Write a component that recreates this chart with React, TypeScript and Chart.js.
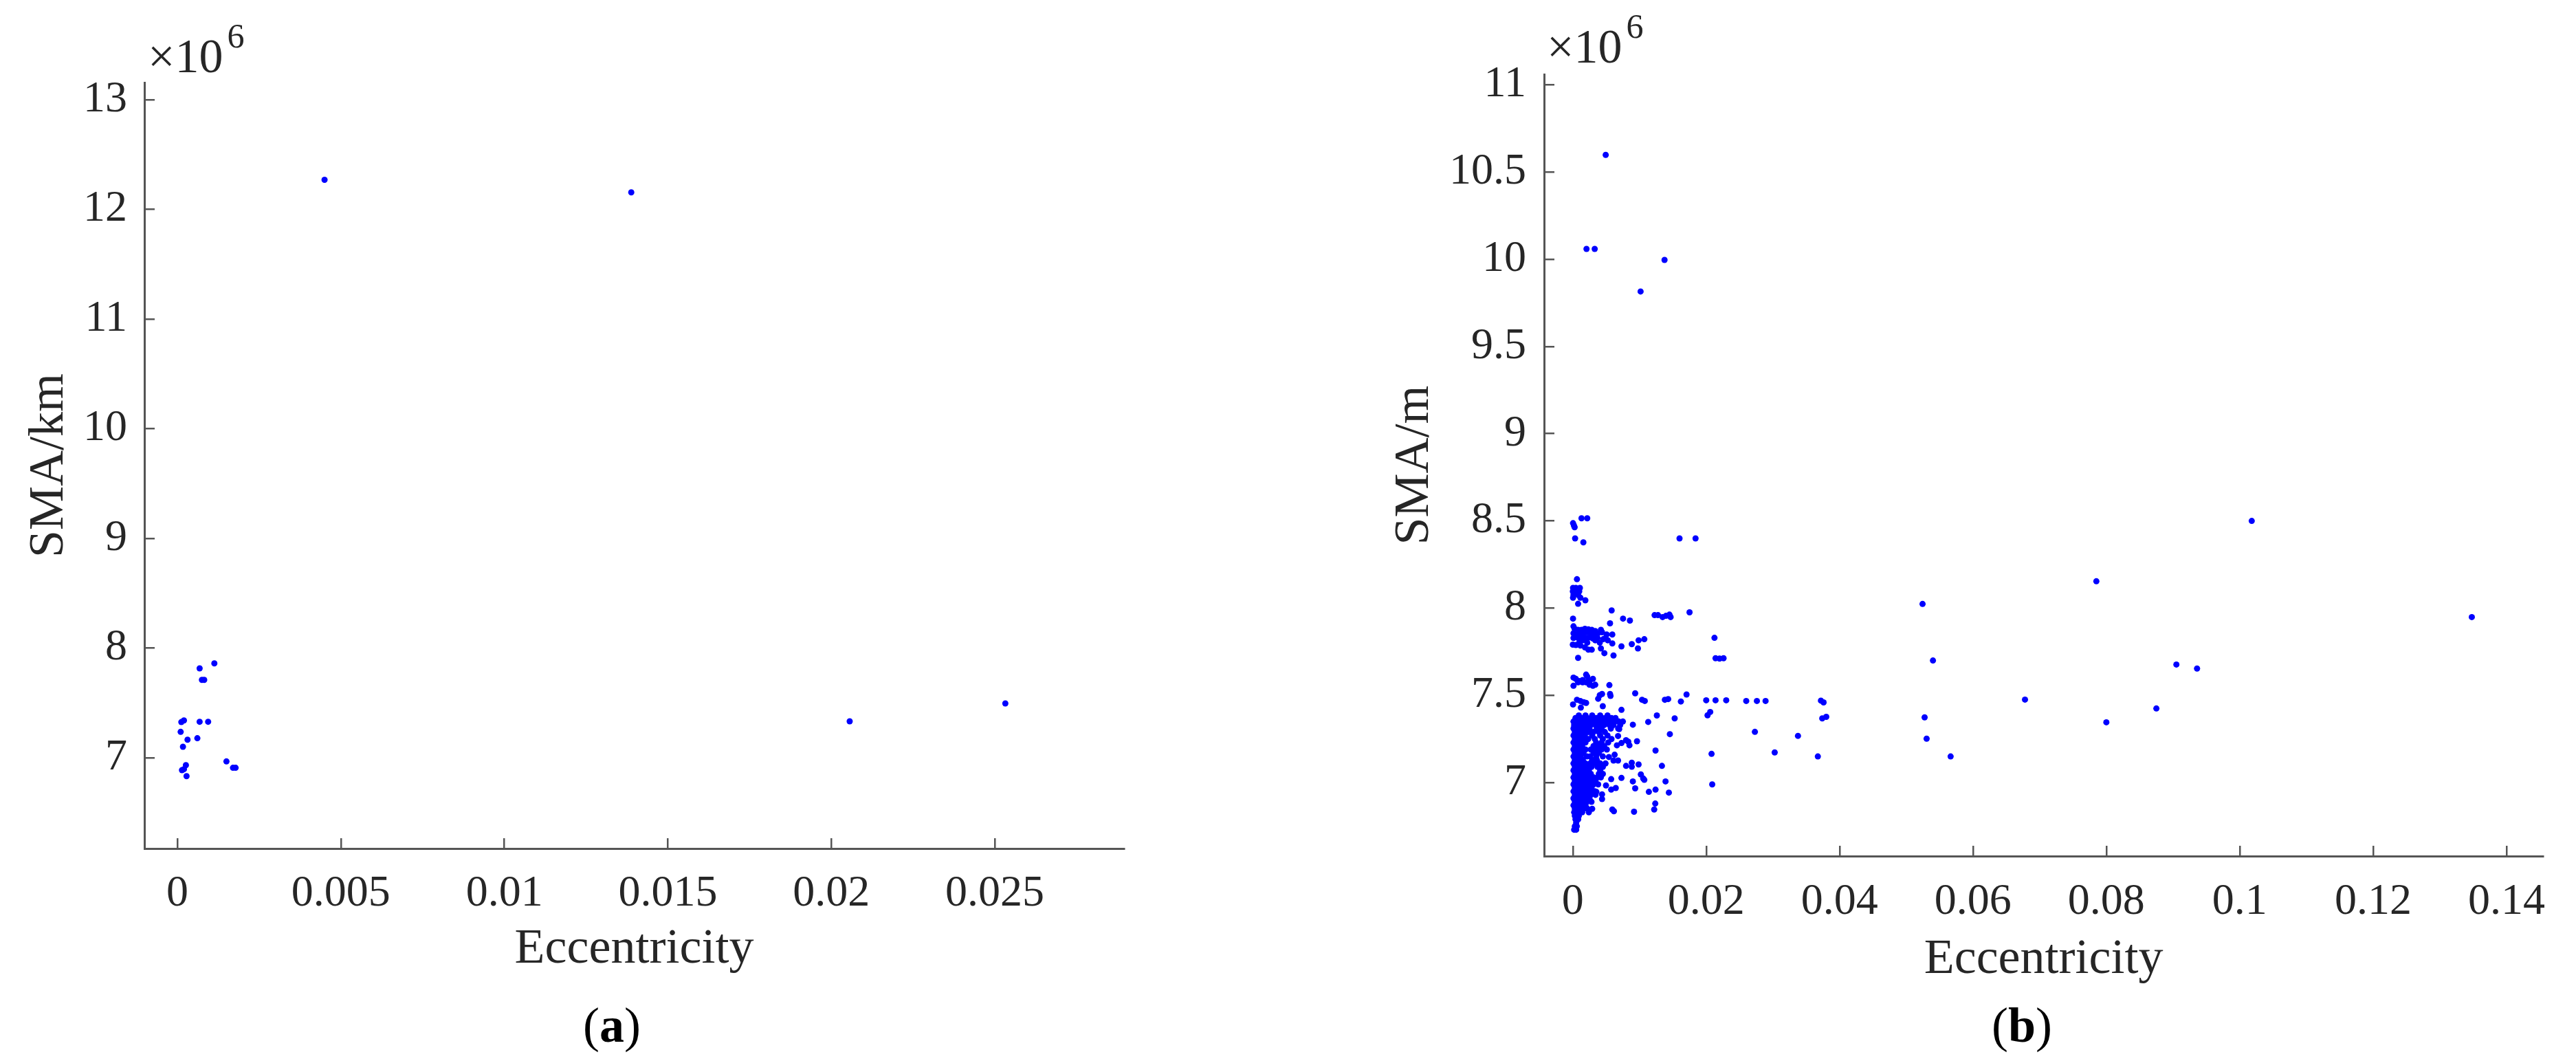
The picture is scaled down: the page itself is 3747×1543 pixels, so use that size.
import React, { useEffect, useRef } from 'react';
import { Chart, registerables } from 'chart.js';

Chart.register(...registerables);

const FONT = "'Liberation Serif', 'Times New Roman', Times, serif";
const TEXT = '#262626';
const AXIS = '#555555';
const DOT = '#0000ff';

// ---------- Panel (a): SMA (x10^6 km) vs eccentricity ----------
const aEcc = [
  0.0045, 0.01388, 0.02056, 0.02532,
  0.00068, 0.00113, 0.00075, 0.00082,
  0.00012, 0.0002, 0.00068, 0.00094,
  0.0001, 0.00031, 0.00061, 0.00017,
  0.0015, 0.0017, 0.00178, 0.00026,
  0.00014, 0.0002, 0.00028,
];
const aSMA = [
  12.27, 12.155, 7.332, 7.495,
  7.815, 7.86, 7.71, 7.71,
  7.325, 7.34, 7.328, 7.328,
  7.236, 7.164, 7.178, 7.1,
  6.966, 6.908, 6.908, 6.932,
  6.887, 6.895, 6.832,
];
const aXTicks = [0, 0.005, 0.01, 0.015, 0.02, 0.025];
const aXTickLabels = ['0', '0.005', '0.01', '0.015', '0.02', '0.025'];
const aYTicks = [7, 8, 9, 10, 11, 12, 13];
const aYTickLabels = ['7', '8', '9', '10', '11', '12', '13'];

// ---------- Panel (b): SMA (x10^6 m) vs eccentricity ----------
// scattered points read individually [eccentricity, SMA x10^6]
const bScatter: [number, number][] = [
  [0.00493, 10.598], [0.00205, 10.059], [0.00328, 10.059], [0.01375, 9.996], [0.01016, 9.815],
  [0.1018, 8.5], [0.0785, 8.154], [0.05244, 8.024], [0.1348, 7.949], [0.054, 7.7],
  [0.0905, 7.677], [0.0936, 7.654], [0.0678, 7.476], [0.0875, 7.425], [0.08, 7.346],
  [0.05275, 7.374], [0.05305, 7.252], [0.05665, 7.15],
  // near 8.5
  [0.00003, 8.487], [0.00017, 8.473], [0.00027, 8.464], [0.0013, 8.515], [0.00216, 8.515],
  [0.00034, 8.4], [0.00158, 8.377], [0.016, 8.4], [0.0184, 8.4],
  // near 8.1
  [0.00062, 8.166], [0.00003, 8.116], [0.00045, 8.116], [0.00106, 8.116],
  [0.0, 8.096], [0.00038, 8.096], [0.00096, 8.096], [0.0001, 8.076], [0.00079, 8.076],
  [0.00003, 8.06], [0.00113, 8.06], [0.00188, 8.045], [0.00079, 8.025],
  // near 8.0 - 7.93
  [0.00582, 7.987], [0.00003, 7.94], [0.00558, 7.913], [0.00753, 7.94], [0.00856, 7.929],
  [0.01226, 7.96], [0.01277, 7.96], [0.01346, 7.949], [0.01397, 7.956], [0.01449, 7.963],
  [0.01466, 7.949], [0.0175, 7.976],
  // 7.8 band
  [0.0001, 7.896], [0.00027, 7.882], [0.00079, 7.876], [0.0013, 7.876], [0.00182, 7.882],
  [0.00233, 7.879], [0.00284, 7.876], [0.00336, 7.869], [0.00421, 7.876], [0.0001, 7.856],
  [0.00062, 7.849], [0.00113, 7.856], [0.00164, 7.858], [0.00216, 7.862], [0.00267, 7.856],
  [0.00318, 7.849], [0.0037, 7.853], [0.00438, 7.862], [0.00507, 7.849], [0.00592, 7.849],
  [0.0001, 7.829], [0.00079, 7.829], [0.00147, 7.836], [0.00199, 7.829], [0.0025, 7.832],
  [0.00301, 7.826], [0.0037, 7.829], [0.00455, 7.822], [0.00524, 7.816], [0.0, 7.791],
  [0.00045, 7.789], [0.00113, 7.786], [0.00182, 7.775], [0.00233, 7.762], [0.00284, 7.762],
  [0.00421, 7.769], [0.00473, 7.742], [0.00592, 7.798], [0.0061, 7.729], [0.00729, 7.781],
  [0.00884, 7.794], [0.00986, 7.816], [0.01072, 7.822], [0.00976, 7.769], [0.00079, 7.715],
  [0.00096, 7.802], [0.00147, 7.816], [0.00216, 7.802], [0.00336, 7.816], [0.00404, 7.802],
  [0.0049, 7.829],
  [0.02124, 7.83], [0.0214, 7.713], [0.022, 7.711], [0.0226, 7.713],
  // 7.55 - 7.62 band
  [0.0001, 7.602], [0.00045, 7.595], [0.00096, 7.582], [0.00147, 7.575], [0.00199, 7.575],
  [0.0025, 7.561], [0.00301, 7.555], [0.0001, 7.555], [0.00199, 7.619], [0.00216, 7.608],
  [0.00301, 7.595], [0.00336, 7.561], [0.00079, 7.575], [0.00147, 7.588], [0.0025, 7.582],
  [0.00548, 7.559],
  // 7.5 band
  [0.00404, 7.501], [0.00438, 7.508], [0.0038, 7.481], [0.00558, 7.508], [0.00565, 7.497],
  [0.00935, 7.512], [0.01038, 7.475], [0.01079, 7.468], [0.0138, 7.475], [0.0143, 7.479],
  [0.0162, 7.465], [0.01705, 7.505], [0.00003, 7.448], [0.00062, 7.475], [0.00113, 7.468],
  [0.00164, 7.461], [0.00199, 7.457], [0.0012, 7.43], [0.00449, 7.438], [0.00729, 7.417],
  [0.02, 7.472], [0.0214, 7.472], [0.023, 7.472], [0.026, 7.468], [0.0276, 7.468],
  [0.0289, 7.468], [0.0206, 7.405], [0.0202, 7.386],
  [0.0372, 7.47], [0.0376, 7.46], [0.0374, 7.368], [0.038, 7.377],
  // mid scatter
  [0.0126, 7.385], [0.01527, 7.368], [0.0113, 7.348], [0.009, 7.332], [0.01455, 7.278],
  [0.0273, 7.291], [0.03376, 7.268], [0.03027, 7.173], [0.03674, 7.15], [0.0208, 7.165],
  [0.0209, 6.99], [0.0124, 7.184], [0.01336, 7.096], [0.0139, 7.007], [0.0144, 6.943],
  [0.0124, 6.96], [0.0114, 6.947], [0.01236, 6.88], [0.0122, 6.846], [0.00918, 6.833],
  [0.00592, 6.846], [0.00616, 6.836], [0.00935, 6.967], [0.009, 7.007], [0.0102, 7.047],
  [0.01055, 7.024], [0.01072, 7.016], [0.00798, 7.096], [0.00884, 7.114], [0.00884, 7.091],
  [0.00986, 7.104], [0.00729, 7.027], [0.00575, 7.02], [0.00497, 6.984], [0.00575, 6.96],
  [0.00644, 6.969], [0.00438, 6.933], [0.00438, 6.906], [0.00353, 6.947], [0.00962, 7.237],
  [0.00832, 7.234], [0.00849, 7.214], [0.00798, 7.243], [0.00729, 7.227], [0.00661, 7.214],
  [0.00678, 7.267], [0.00695, 7.307], [0.00627, 7.16], [0.00678, 7.127], [0.0061, 7.127],
  [0.00541, 7.147],
];

// dense core near zero eccentricity, read row by row: [SMA x10^6, eccentricities]
const bCoreRows: [number, number[]][] = [
  [7.385, [0.0009, 0.0019, 0.0029, 0.0041, 0.0052]],
  [7.37, [0.0004, 0.0013, 0.0021, 0.0027, 0.0035, 0.0044, 0.0049, 0.0058, 0.0064]],
  [7.35, [0.0001, 0.0006, 0.0011, 0.0017, 0.0023, 0.0028, 0.0033, 0.0039, 0.0045, 0.0052, 0.0057, 0.0063, 0.0069, 0.0075]],
  [7.33, [0.0002, 0.0008, 0.0015, 0.0021, 0.0027, 0.0034, 0.004, 0.0047, 0.0055, 0.0061, 0.0071]],
  [7.31, [0.0001, 0.0006, 0.0012, 0.0019, 0.0025, 0.0036, 0.0043, 0.0057, 0.0068]],
  [7.29, [0.0003, 0.0009, 0.0016, 0.0023, 0.0031, 0.0039, 0.0048]],
  [7.27, [0.0001, 0.0007, 0.0013, 0.0018, 0.0029, 0.0041, 0.0052]],
  [7.25, [0.0003, 0.001, 0.0015, 0.0023, 0.0033, 0.0045, 0.0058]],
  [7.23, [0.0001, 0.0006, 0.0012, 0.0019, 0.0035, 0.0043, 0.0053]],
  [7.21, [0.0003, 0.0009, 0.0014, 0.0031, 0.0039, 0.0047]],
  [7.19, [0.0001, 0.0007, 0.0013, 0.0019, 0.0027, 0.0035, 0.0043, 0.0051]],
  [7.17, [0.0003, 0.0009, 0.0016, 0.0031, 0.0039]],
  [7.15, [0.0001, 0.0006, 0.0012, 0.0021, 0.0026, 0.0035, 0.0045]],
  [7.13, [0.0003, 0.0009, 0.0015, 0.0029, 0.0036]],
  [7.11, [0.0001, 0.0007, 0.0013, 0.0019, 0.0026, 0.0033, 0.0041, 0.0049]],
  [7.09, [0.0003, 0.0009, 0.0015, 0.0021, 0.0028, 0.0037, 0.0045]],
  [7.07, [0.0001, 0.0006, 0.0012, 0.0018, 0.0024, 0.0041]],
  [7.05, [0.0003, 0.0009, 0.0015, 0.0021, 0.0027, 0.0039, 0.0045]],
  [7.03, [0.0001, 0.0007, 0.0013, 0.0019, 0.0025, 0.0031, 0.0037, 0.0042]],
  [7.01, [0.0003, 0.0009, 0.0015, 0.0022, 0.0029, 0.0034]],
  [6.99, [0.0001, 0.0006, 0.0012, 0.0018, 0.0024, 0.0031, 0.0038]],
  [6.97, [0.0003, 0.0009, 0.0015, 0.0021, 0.0028]],
  [6.95, [0.0001, 0.0007, 0.0013, 0.0019, 0.0026, 0.0033]],
  [6.93, [0.0003, 0.0009, 0.0015, 0.0022, 0.0027, 0.0034]],
  [6.91, [0.0001, 0.0006, 0.0012, 0.0018, 0.0025]],
  [6.89, [0.0003, 0.0009, 0.0015, 0.0021, 0.0028]],
  [6.87, [0.0001, 0.0007, 0.0013, 0.0019]],
  [6.85, [0.0003, 0.0009, 0.0016, 0.0022, 0.0029]],
  [6.83, [0.0002, 0.0008, 0.0014, 0.0024]],
  [6.81, [0.0003, 0.0009]],
  [6.79, [0.0004, 0.0008]],
  [6.77, [0.0005]],
  [6.75, [0.0003, 0.0006]],
  [6.73, [0.0002, 0.0005]],
];

const bXTicks = [0, 0.02, 0.04, 0.06, 0.08, 0.1, 0.12, 0.14];
const bXTickLabels = ['0', '0.02', '0.04', '0.06', '0.08', '0.1', '0.12', '0.14'];
const bYTicks = [7, 7.5, 8, 8.5, 9, 9.5, 10, 10.5, 11];
const bYTickLabels = ['7', '7.5', '8', '8.5', '9', '9.5', '10', '10.5', '11'];

type PanelSpec = {
  points: { x: number; y: number }[];
  xMin: number; xMax: number; yMin: number; yMax: number;
  xTicks: number[]; xTickLabels: string[];
  yTicks: number[]; yTickLabels: string[];
  yTitle: string;
  yAxisWidth: number; xAxisHeight: number;
  padTop: number; padRight: number;
  yTickPad: number; xTickPad: number;
  yTitlePad: number; xTitlePad: number;
};

function makeConfig(p: PanelSpec): any {
  const tickFont = { family: FONT, size: 64 };
  const titleFont = { family: FONT, size: 72 };
  return {
    type: 'scatter',
    data: {
      datasets: [
        {
          data: p.points,
          backgroundColor: DOT,
          borderColor: DOT,
          borderWidth: 0,
          pointRadius: 4.5,
          pointHoverRadius: 4.5,
          showLine: false,
        },
      ],
    },
    options: {
      responsive: false,
      animation: false,
      devicePixelRatio: 1,
      events: [],
      layout: { padding: { left: 0, top: p.padTop, right: p.padRight, bottom: 0 } },
      plugins: { legend: { display: false }, tooltip: { enabled: false }, title: { display: false } },
      scales: {
        x: {
          type: 'linear',
          min: p.xMin,
          max: p.xMax,
          afterBuildTicks: (s: any) => { s.ticks = p.xTicks.map((v) => ({ value: v })); },
          afterFit: (s: any) => { s.height = p.xAxisHeight; },
          ticks: {
            autoSkip: false, maxRotation: 0, minRotation: 0, includeBounds: false,
            padding: p.xTickPad, color: TEXT, font: tickFont,
            callback: (_v: any, i: number) => p.xTickLabels[i],
          },
          grid: {
            display: true, drawOnChartArea: false, drawTicks: true, tickLength: -15,
            color: AXIS, tickColor: AXIS, lineWidth: 2.5, tickWidth: 2.5,
          },
          border: { display: true, color: AXIS, width: 3 },
          title: {
            display: true, text: 'Eccentricity', color: TEXT, font: titleFont,
            padding: { top: 0, bottom: p.xTitlePad },
          },
        },
        y: {
          type: 'linear',
          min: p.yMin,
          max: p.yMax,
          afterBuildTicks: (s: any) => { s.ticks = p.yTicks.map((v) => ({ value: v })); },
          afterFit: (s: any) => { s.width = p.yAxisWidth; },
          ticks: {
            autoSkip: false, includeBounds: false,
            padding: p.yTickPad, color: TEXT, font: tickFont,
            callback: (_v: any, i: number) => p.yTickLabels[i],
          },
          grid: {
            display: true, drawOnChartArea: false, drawTicks: true, tickLength: -15,
            color: AXIS, tickColor: AXIS, lineWidth: 2.5, tickWidth: 2.5,
          },
          border: { display: true, color: AXIS, width: 3 },
          title: {
            display: true, text: p.yTitle, color: TEXT, font: titleFont,
            padding: { top: p.yTitlePad, bottom: 0 },
          },
        },
      },
    },
  };
}

const aPoints = aEcc.map((x, i) => ({ x, y: aSMA[i] }));
const bPoints = [
  ...bScatter.map(([x, y]) => ({ x, y })),
  ...bCoreRows.flatMap(([y, xs]) => xs.map((x) => ({ x, y }))),
];

const LEFT_W = 1870;
const RIGHT_W = 3747 - LEFT_W;
const H = 1543;

const specA: PanelSpec = {
  points: aPoints,
  xMin: -0.00101, xMax: 0.02895, yMin: 6.172, yMax: 13.157,
  xTicks: aXTicks, xTickLabels: aXTickLabels, yTicks: aYTicks, yTickLabels: aYTickLabels,
  yTitle: 'SMA/km',
  yAxisWidth: 210, xAxisHeight: H - 1234,
  padTop: 120, padRight: LEFT_W - 1635,
  yTickPad: 40, xTickPad: 42.6,
  yTitlePad: 28.8, xTitlePad: 118.8,
};

const specB: PanelSpec = {
  points: bPoints,
  xMin: -0.00431, xMax: 0.1455, yMin: 6.579, yMax: 11.06,
  xTicks: bXTicks, xTickLabels: bXTickLabels, yTicks: bYTicks, yTickLabels: bYTickLabels,
  yTitle: 'SMA/m',
  yAxisWidth: 2246 - LEFT_W, xAxisHeight: H - 1245,
  padTop: 108, padRight: RIGHT_W - (3706 - LEFT_W),
  yTickPad: 41, xTickPad: 43.6,
  yTitlePad: 144.8, xTitlePad: 103.8,
};

function Panel({ spec, left, width }: { spec: PanelSpec; left: number; width: number }) {
  const ref = useRef<HTMLCanvasElement | null>(null);
  useEffect(() => {
    if (!ref.current) return;
    const chart = new Chart(ref.current, makeConfig(spec));
    return () => chart.destroy();
  }, [spec]);
  return (
    <canvas
      ref={ref}
      width={width}
      height={H}
      style={{ position: 'absolute', left, top: 0, width, height: H, display: 'block' }}
    />
  );
}

const expStyle: React.CSSProperties = {
  position: 'absolute',
  font: `70px/1 ${FONT}`,
  color: TEXT,
  whiteSpace: 'nowrap',
};
const supStyle: React.CSSProperties = {
  fontSize: 50,
  position: 'relative',
  top: -36,
  marginLeft: 6,
};
const capStyle: React.CSSProperties = {
  position: 'absolute',
  width: 300,
  textAlign: 'center',
  font: `normal 72px/1 ${FONT}`,
  color: '#000',
};

export default function App() {
  return (
    <div style={{ position: 'absolute', left: 0, top: 0, width: 3747, height: H, background: '#fff', overflow: 'hidden' }}>
      <Panel spec={specA} left={0} width={LEFT_W} />
      <Panel spec={specB} left={LEFT_W} width={RIGHT_W} />
      <div style={{ ...expStyle, left: 215, top: 47 }}>
        ×10<span style={supStyle}>6</span>
      </div>
      <div style={{ ...expStyle, left: 2250, top: 33 }}>
        ×10<span style={supStyle}>6</span>
      </div>
      <div style={{ ...capStyle, left: 890 - 150, top: 1455 }}>
        (<span style={{ fontWeight: 'bold' }}>a</span>)
      </div>
      <div style={{ ...capStyle, left: 2941 - 150, top: 1455 }}>
        (<span style={{ fontWeight: 'bold' }}>b</span>)
      </div>
    </div>
  );
}
